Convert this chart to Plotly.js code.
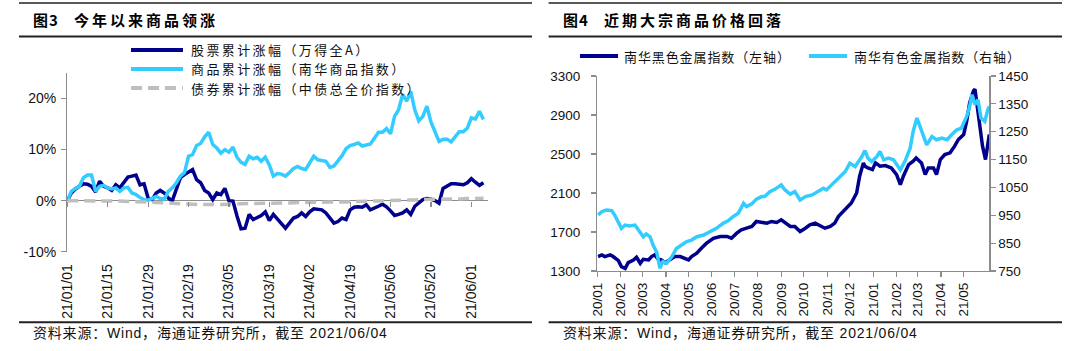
<!DOCTYPE html>
<html><head><meta charset="utf-8">
<script src="https://cdn.plot.ly/plotly-3.0.1.min.js"></script>
<style>html,body{margin:0;padding:0;background:#fff}#chart{width:1080px;height:351px}</style>
</head><body><div id="chart"></div>
<script>
// ---------- Left chart (图3) : trading-day index, cumulative % ----------
const leftTickLabels = ['21/01/01','21/01/15','21/01/29','21/02/19','21/03/05','21/03/19','21/04/02','21/04/19','21/05/06','21/05/20','21/06/01'];
const leftYTicks = [-10, 0, 10, 20];
const leftYLabels = ['-10%', '0%', '10%', '20%'];
const stockReturn = [0, 1.5, 2.3, 2.8, 3.3, 3.2, 2.8, 1.7, 3.8, 2.8,
 2.5, 2.0, 3.1, 2.5, 3.5, 4.6, 4.8, 5.0, 3.1, 3.3,
 0.5, 0.2, 1.5, 2.0, 1.5, 0.5, 0.0, 2.5, 4.5, 5.1,
 5.6, 6.1, 4.1, 3.5, 2.0, 1.5, 0.2, 1.5, 1.2, 2.4,
 0.0, -0.1, -3.0, -5.5, -5.4, -2.7, -3.7, -3.3, -2.9, -2.2,
 -3.9, -2.7, -3.7, -4.5, -5.4, -4.5, -3.4, -3.1, -2.4, -3.1,
 -2.2, -1.6, -1.7, -1.8, -2.4, -3.5, -4.4, -4.1, -3.4, -3.7,
 -1.8, -1.3, -1.2, -1.3, -0.8, -1.8, -1.5, -1.1, -0.7, -1.2,
 -2.0, -2.9, -2.7, -2.4, -1.8, -2.7, -1.1, -0.5, 0.2, 0.4,
 0.3, 0.0, -0.5, 2.4, 2.8, 3.3, 3.3, 3.2, 3.1, 3.5,
 4.3, 3.6, 3.0, 3.5];
const commodityReturn = [0, 1.8, 2.4, 2.8, 4.5, 5.0, 5.0, 1.8, 2.8, 3.0,
 2.5, 2.3, 2.5, 1.8, 2.5, 2.6, 1.5, 1.2, 0.6, 0.2,
 0.1, 0.5, 0.8, 0.4, 0.3, 1.8, 2.5, 3.5, 4.8, 5.5,
 8.7, 9.0, 10.8, 11.2, 12.5, 13.4, 11.0, 10.3, 9.3, 10.0,
 9.5, 10.5, 8.5, 7.5, 7.1, 8.7, 8.2, 8.5, 7.7, 8.5,
 7.0, 4.8, 5.3, 5.2, 4.8, 5.5, 6.3, 6.7, 6.3, 6.1,
 7.5, 8.7, 8.0, 7.9, 7.7, 6.5, 6.8, 7.8, 8.8, 10.2,
 10.8, 11.0, 11.3, 10.7, 10.9, 11.1, 12.2, 13.4, 13.4, 14.1,
 13.1, 16.5, 17.8, 20.8, 19.5, 21.4, 17.8, 15.6, 16.5, 18.5,
 15.4, 13.5, 11.6, 12.0, 12.0, 11.5, 12.5, 13.5, 13.5, 14.2,
 16.2, 16.0, 17.5, 15.9];
const bondReturn = [0, 0, 0, 0.05, 0.05, 0, 0, 0, -0.05, 0,
 -0.05, -0.05, -0.1, -0.1, -0.1, -0.15, -0.15, -0.2, -0.2, -0.2,
 -0.25, -0.3, -0.35, -0.4, -0.45, -0.5, -0.5, -0.55, -0.6, -0.6,
 -0.65, -0.7, -0.75, -0.8, -0.75, -0.7, -0.75, -0.8, -0.8, -0.75,
 -0.7, -0.7, -0.65, -0.6, -0.6, -0.6, -0.55, -0.55, -0.5, -0.5,
 -0.5, -0.5, -0.5, -0.45, -0.45, -0.45, -0.4, -0.4, -0.4, -0.4,
 -0.35, -0.35, -0.35, -0.3, -0.3, -0.3, -0.3, -0.3, -0.25, -0.25,
 -0.2, -0.2, -0.2, -0.15, -0.15, -0.1, -0.1, -0.05, -0.05, 0,
 0, 0.05, 0.05, 0.1, 0.1, 0.15, 0.15, 0.2, 0.2, 0.2,
 0.25, 0.25, 0.25, 0.3, 0.3, 0.3, 0.3, 0.35, 0.35, 0.4,
 0.4, 0.4, 0.45, 0.45];
const leftNames = ['股票累计涨幅（万得全A）', '商品累计涨幅（南华商品指数）', '债券累计涨幅（中债总全价指数）'];

// ---------- Right chart (图4) ----------
const rightTickDates = ['2020-01-01','2020-02-01','2020-03-01','2020-04-01','2020-05-01','2020-06-01','2020-07-01','2020-08-01','2020-09-01','2020-10-01','2020-11-01','2020-12-01','2021-01-01','2021-02-01','2021-03-01','2021-04-01','2021-05-01'];
const rightTickLabels = ['20/01','20/02','20/03','20/04','20/05','20/06','20/07','20/08','20/09','20/10','20/11','20/12','21/01','21/02','21/03','21/04','21/05'];
const ferrousDates = ['2020-01-02','2020-01-07','2020-01-11','2020-01-18','2020-01-22','2020-01-29','2020-02-02','2020-02-07','2020-02-11','2020-02-18','2020-02-22','2020-02-27','2020-03-02','2020-03-09','2020-03-13','2020-03-17','2020-03-22','2020-03-26','2020-03-31','2020-04-06','2020-04-13','2020-04-20','2020-04-26','2020-05-01','2020-05-05','2020-05-12','2020-05-18','2020-05-25','2020-06-03','2020-06-12','2020-06-21','2020-06-27','2020-07-04','2020-07-10','2020-07-17','2020-07-24','2020-07-30','2020-08-06','2020-08-13','2020-08-19','2020-08-26','2020-09-01','2020-09-07','2020-09-13','2020-09-19','2020-09-26','2020-10-03','2020-10-09','2020-10-16','2020-10-22','2020-10-29','2020-11-05','2020-11-11','2020-11-16','2020-11-22','2020-11-29','2020-12-03','2020-12-10','2020-12-14','2020-12-19','2020-12-21','2020-12-25','2020-12-31','2021-01-04','2021-01-10','2021-01-17','2021-01-25','2021-02-01','2021-02-06','2021-02-10','2021-02-17','2021-02-23','2021-02-27','2021-03-06','2021-03-11','2021-03-15','2021-03-22','2021-03-26','2021-03-31','2021-04-06','2021-04-13','2021-04-19','2021-04-24','2021-05-01','2021-05-05','2021-05-09','2021-05-14','2021-05-16','2021-05-20','2021-05-23','2021-05-26','2021-05-30','2021-06-01','2021-06-04'];
const ferrousIndex = [1448,1465,1448,1465,1448,1406,1345,1327,1386,1413,1441,1379,1420,1413,1448,1465,1420,1413,1386,1413,1448,1448,1430,1413,1448,1482,1533,1585,1636,1654,1654,1636,1688,1722,1739,1757,1808,1798,1791,1808,1798,1825,1791,1757,1757,1705,1739,1774,1791,1763,1739,1757,1791,1860,1911,1963,1997,2100,2272,2409,2375,2357,2340,2409,2375,2381,2357,2289,2186,2272,2392,2426,2460,2409,2289,2357,2357,2289,2443,2495,2512,2580,2649,2700,2838,3027,3147,3164,2907,2787,2580,2443,2563,2700];
const nonferrousDates = ['2020-01-02','2020-01-07','2020-01-13','2020-01-20','2020-01-24','2020-02-02','2020-02-07','2020-02-13','2020-02-20','2020-02-27','2020-03-02','2020-03-06','2020-03-11','2020-03-15','2020-03-20','2020-03-24','2020-03-28','2020-04-02','2020-04-09','2020-04-15','2020-04-22','2020-04-28','2020-05-05','2020-05-12','2020-05-21','2020-05-29','2020-06-07','2020-06-16','2020-06-23','2020-06-29','2020-07-06','2020-07-13','2020-07-17','2020-07-24','2020-07-30','2020-08-06','2020-08-10','2020-08-17','2020-08-24','2020-09-01','2020-09-06','2020-09-13','2020-09-19','2020-09-26','2020-10-03','2020-10-12','2020-10-20','2020-10-27','2020-10-31','2020-11-07','2020-11-16','2020-11-25','2020-12-01','2020-12-08','2020-12-17','2020-12-21','2020-12-25','2020-12-30','2021-01-06','2021-01-10','2021-01-15','2021-01-21','2021-01-28','2021-02-06','2021-02-12','2021-02-19','2021-02-23','2021-02-28','2021-03-04','2021-03-09','2021-03-13','2021-03-20','2021-03-26','2021-04-02','2021-04-09','2021-04-15','2021-04-22','2021-04-28','2021-05-05','2021-05-09','2021-05-12','2021-05-16','2021-05-20','2021-05-24','2021-05-29','2021-06-02','2021-06-04'];
const nonferrousIndex = [951,963,969,967,951,903,915,912,915,888,873,883,873,843,816,760,784,778,802,831,843,855,861,873,879,891,903,921,931,945,957,993,981,991,1008,1017,1017,1035,1044,1059,1041,1026,1035,1005,1017,1023,1035,1047,1041,1059,1083,1107,1137,1125,1161,1182,1155,1143,1161,1179,1149,1155,1149,1113,1143,1191,1251,1299,1269,1227,1203,1233,1221,1227,1221,1239,1257,1263,1305,1341,1383,1347,1365,1299,1287,1329,1341];
const rightNames = ['南华黑色金属指数（左轴）', '南华有色金属指数（右轴）'];

if (ferrousDates.length !== ferrousIndex.length || nonferrousDates.length !== nonferrousIndex.length ||
    stockReturn.length !== commodityReturn.length || stockReturn.length !== bondReturn.length) {
  throw new Error('length mismatch');
}

// ---------- helpers ----------
const W = 1080, H = 351;
const px = x => x / W;
const py = y => 1 - y / H;
const NAVY = '#00008C', CYAN = '#33CCFF', GREY = '#BFBFBF', AXIS = '#8C8C8C';
const LATIN = 'Liberation Sans, Arial, Noto Sans CJK SC, sans-serif';
const CJK = 'Noto Sans CJK SC, Liberation Sans, sans-serif';
const idx = stockReturn.map((_, i) => i);
const leftTickIdx = leftTickLabels.map((_, i) => i * 10);

const traces = [
  {x: idx, y: stockReturn, xaxis: 'x', yaxis: 'y', type: 'scatter', mode: 'lines', line: {color: NAVY, width: 3.5}},
  {x: idx, y: commodityReturn, xaxis: 'x', yaxis: 'y', type: 'scatter', mode: 'lines', line: {color: CYAN, width: 3.5}},
  {x: idx, y: bondReturn, xaxis: 'x2', yaxis: 'y', type: 'scatter', mode: 'lines', line: {color: GREY, width: 3.5, dash: '11px,6px'}},
  {x: ferrousDates, y: ferrousIndex, xaxis: 'x3', yaxis: 'y3', type: 'scatter', mode: 'lines', line: {color: NAVY, width: 3.5}},
  {x: nonferrousDates, y: nonferrousIndex, xaxis: 'x3', yaxis: 'y4', type: 'scatter', mode: 'lines', line: {color: CYAN, width: 3.5}}
];

const tickFont = {family: LATIN, size: 14, color: '#111'};
const tickFontR = {family: LATIN, size: 13.5, color: '#111'};

const shapes = [];
const annotations = [];
const spacing = [];
function hline(x0, x1, y, w, color, dash) {
  shapes.push({type: 'line', xref: 'paper', yref: 'paper', x0: px(x0), x1: px(x1), y0: py(y), y1: py(y),
    line: {color: color, width: w, dash: dash || 'solid'}});
}
function text(x, y, t, font, ls) {
  annotations.push({xref: 'paper', yref: 'paper', x: px(x), y: py(y), xanchor: 'left', yanchor: 'middle', align: 'left',
    text: t, showarrow: false, font: font});
  spacing.push(ls || 0);
}

// title bars + footers
[[19, 532, 31, 72, '图3', '今年以来商品领涨'], [548.6, 1062, 561, 602, '图4', '近期大宗商品价格回落']].forEach(p => {
  hline(p[0], p[1], 3, 1.5, '#222');
  hline(p[0], p[1], 36.5, 2, '#222');
  hline(p[0], p[1], 322.3, 2, '#222');
  text(p[2], 20, '<b>' + p[4] + '</b>', {family: CJK, size: 15, color: '#000'}, 1);
  text(p[3], 20, '<b>' + p[5] + '</b>', {family: CJK, size: 15, color: '#000'}, 3);
  text(p[2] - 0.5, 333, '资料来源：Wind，海通证券研究所，截至 2021/06/04', {family: LATIN, size: 14, color: '#111'}, 0.8);
});

// left legend
const legFont = {family: CJK, size: 13, color: '#111'};
hline(131, 183, 50, 4, NAVY);
hline(131, 183, 69, 4, CYAN);
hline(131, 183, 88, 4, GREY, '11px,6px');
text(189, 50, leftNames[0], legFont, 2.4);
text(189, 69, leftNames[1], legFont, 2.4);
text(189, 88, leftNames[2], legFont, 2.4);
// right legend
hline(580, 618, 56, 4, NAVY);
hline(809, 847, 56, 4, CYAN);
text(622, 56, rightNames[0], legFont, 0.9);
text(851.5, 56, rightNames[1], legFont, 0.9);

const layout = {
  width: W, height: H, margin: {l: 0, r: 0, t: 0, b: 0}, paper_bgcolor: '#fff', plot_bgcolor: 'rgba(0,0,0,0)',
  showlegend: false, shapes: shapes, annotations: annotations,
  xaxis: {domain: [px(67.3), px(487.5)], range: [0, 104], anchor: 'y', tickmode: 'array', tickvals: leftTickIdx, ticktext: leftTickLabels,
    tickangle: -90, ticks: 'outside', ticklen: 6, tickcolor: 'rgba(0,0,0,0)', showline: false, showgrid: false, zeroline: false, tickfont: tickFont},
  xaxis2: {overlaying: 'x', anchor: 'free', position: py(251.7) + (py(73) - py(251.7)) * (10 / 35), range: [0, 104],
    tickmode: 'array', tickvals: leftTickIdx, showticklabels: false, ticks: 'outside', ticklen: 5, tickcolor: AXIS, tickwidth: 1.2,
    showline: false, showgrid: false, zeroline: false},
  yaxis: {domain: [py(251.7), py(73)], range: [-10, 25], anchor: 'x', tickmode: 'array', tickvals: leftYTicks, ticktext: leftYLabels,
    ticks: 'outside', ticklen: 5, tickcolor: AXIS, tickwidth: 1.2, showline: true, linecolor: AXIS, linewidth: 1.3,
    zeroline: true, zerolinecolor: AXIS, zerolinewidth: 1.3, showgrid: false, tickfont: tickFont, ticklabelstandoff: 2},
  xaxis3: {domain: [px(597.3), px(989.3)], type: 'date', range: ['2020-01-01', '2021-06-04'], anchor: 'y3',
    tickmode: 'array', tickvals: rightTickDates, ticktext: rightTickLabels, tickangle: -90, ticks: 'outside', ticklen: 5,
    tickcolor: AXIS, tickwidth: 1.2, showline: true, linecolor: AXIS, linewidth: 1.3, showgrid: false, zeroline: false, tickfont: tickFontR},
  yaxis3: {domain: [py(271), py(76)], range: [1300, 3300], dtick: 400, tick0: 1300, anchor: 'x3', ticks: 'outside', ticklen: 5,
    tickcolor: AXIS, tickwidth: 1.2, showline: true, linecolor: AXIS, linewidth: 1.3, showgrid: false, zeroline: false, tickfont: tickFontR,
    ticklabelstandoff: 8},
  yaxis4: {overlaying: 'y3', side: 'right', anchor: 'x3', range: [750, 1450], dtick: 100, tick0: 750, ticks: 'outside', ticklen: 5,
    tickcolor: AXIS, tickwidth: 1.2, showline: true, linecolor: AXIS, linewidth: 1.3, showgrid: false, zeroline: false, tickfont: tickFontR}
};

Plotly.newPlot('chart', traces, layout, {staticPlot: true, displayModeBar: false}).then(() => {
  document.querySelectorAll('g.annotation').forEach(g => {
    const i = +g.getAttribute('data-index');
    const t = g.querySelector('text');
    if (t && spacing[i]) t.style.letterSpacing = spacing[i] + 'px';
  });
});
</script></body></html>
